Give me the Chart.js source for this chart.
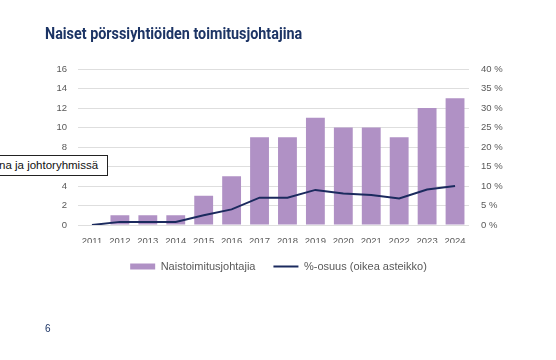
<!DOCTYPE html>
<html>
<head>
<meta charset="utf-8">
<script src="https://cdn.jsdelivr.net/npm/chart.js@4.4.1/dist/chart.umd.min.js"></script>
<style>
  html, body { margin: 0; padding: 0; background: #ffffff; }
  body { width: 556px; height: 360px; position: relative; overflow: hidden; }
  #title { position: absolute; left: 45px; top: 24px; font-family: 'Roboto', 'Liberation Sans', sans-serif; font-weight: bold; font-size: 16.5px; color: #1c3465; white-space: nowrap; transform: scaleX(0.87); transform-origin: left top; }
  #wrap { position: absolute; left: 0; top: 0; width: 556px; height: 360px; }
  #note { position: absolute; left: -2px; top: 155px; height: 19px; padding: 0 9px 0 0; border: 1px solid #222; background: #fff; font-family: 'Liberation Sans', Arial, sans-serif; font-size: 11.5px; line-height: 19px; color: #111; white-space: nowrap; }
  #page { position: absolute; left: 45px; top: 323px; font-family: 'Liberation Sans', Arial, sans-serif; font-size: 10px; color: #1c3465; }
</style>
</head>
<body>
<div id="wrap"><canvas id="c" width="556" height="360"></canvas></div>
<div id="title">Naiset pörssiyhtiöiden toimitusjohtajina</div>
<div id="note">na ja johtoryhmissä</div>
<div id="page">6</div>
<script>
const years = ['2011','2012','2013','2014','2015','2016','2017','2018','2019','2020','2021','2022','2023','2024'];
const femaleCEOs = [0, 1, 1, 1, 3, 5, 9, 9, 11, 10, 10, 9, 12, 13];
const sharePct = [0, 0.8, 0.8, 0.8, 2.5, 4.0, 7.0, 7.0, 9.0, 8.1, 7.7, 6.8, 9.1, 10.0];
const seriesNames = ['Naistoimitusjohtajia', '%-osuus (oikea asteikko)'];

const tickFont = { family: "'Liberation Sans', Arial, sans-serif", size: 9.5 };
const tickColor = '#595959';
const gridColor = '#dedede';

new Chart(document.getElementById('c'), {
  data: {
    labels: years,
    datasets: [
      {
        type: 'line',
        label: seriesNames[1],
        data: sharePct,
        yAxisID: 'y2',
        borderColor: '#1b2a5e',
        backgroundColor: '#1b2a5e',
        borderWidth: 2,
        pointRadius: 0,
        tension: 0,
        order: 0
      },
      {
        type: 'bar',
        label: seriesNames[0],
        data: femaleCEOs,
        yAxisID: 'y',
        backgroundColor: '#b091c5',
        borderWidth: 0,
        categoryPercentage: 0.75,
        barPercentage: 0.9,
        order: 1
      }
    ]
  },
  options: {
    responsive: false,
    animation: false,
    layout: { padding: { top: 69, left: 48, right: 47, bottom: 78 } },
    plugins: {
      tooltip: { enabled: false },
      legend: {
        position: 'bottom',
        reverse: true,
        labels: {
          font: { family: "'Liberation Sans', Arial, sans-serif", size: 11 },
          color: '#595959',
          usePointStyle: true,
          pointStyleWidth: 25,
          boxHeight: 6,
          padding: 18,
          generateLabels(chart) {
            const items = Chart.defaults.plugins.legend.labels.generateLabels(chart);
            items.forEach(it => {
              const ds = chart.data.datasets[it.datasetIndex];
              if (ds.type === 'line') { it.pointStyle = 'line'; it.lineWidth = 2; it.strokeStyle = ds.borderColor; }
              else { it.pointStyle = 'rect'; it.lineWidth = 0; it.fillStyle = ds.backgroundColor; it.strokeStyle = ds.backgroundColor; }
            });
            return items;
          }
        }
      }
    },
    scales: {
      x: {
        grid: { display: false, drawTicks: false },
        border: { display: false },
        ticks: { font: tickFont, color: tickColor, padding: 11, maxRotation: 0, autoSkip: false },
        afterFit(s) { s.height = 18; }
      },
      y: {
        position: 'left',
        min: 0, max: 16,
        grid: { color: gridColor, lineWidth: 1, drawTicks: false },
        border: { display: false },
        ticks: { stepSize: 2, font: tickFont, color: tickColor, padding: 11 },
        afterFit(s) { s.width = 30; }
      },
      y2: {
        position: 'right',
        min: 0, max: 40,
        grid: { display: false, drawTicks: false },
        border: { display: false },
        ticks: { stepSize: 5, font: tickFont, color: tickColor, padding: 12, callback: v => v + ' %' },
        afterFit(s) { s.width = 40; }
      }
    }
  }
});
</script>
</body>
</html>
